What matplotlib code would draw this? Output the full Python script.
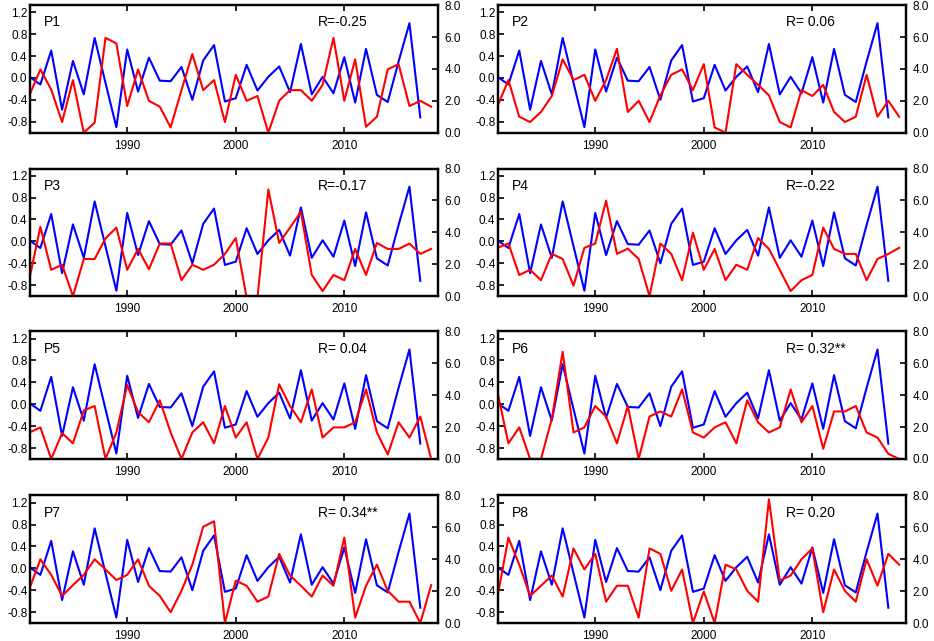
import numpy as np
import matplotlib
matplotlib.use('Agg')
import matplotlib.pyplot as plt

plt.rcParams['font.family'] = ['Liberation Sans', 'DejaVu Sans']

# anos
anos_azul = list(range(1981, 2018))
anos_vermelho = list(range(1981, 2019))

# serie azul (eixo esquerdo) - igual em todos os paineis
azul = [0.02, -0.12, 0.50, -0.58, 0.31, -0.30, 0.73, -0.09, -0.90, 0.52,
        -0.25, 0.37, -0.05, -0.06, 0.20, -0.40, 0.32, 0.60, -0.43, -0.37,
        0.24, -0.23, 0.02, 0.21, -0.26, 0.62, -0.30, 0.02, -0.28, 0.38,
        -0.45, 0.53, -0.31, -0.44, 0.30, 1.00, -0.72]

# series vermelhas (eixo direito)
p1 = [2.36, 3.97, 2.70, 0.67, 3.30, 0.00, 0.63, 5.95, 5.60, 1.67,
      3.97, 2.00, 1.63, 0.33, 2.67, 4.93, 2.67, 3.30, 0.67, 3.63,
      2.00, 2.30, 0.00, 2.00, 2.67, 2.67, 2.00, 3.00, 5.95, 2.00,
      4.60, 0.37, 1.00, 3.97, 4.30, 1.67, 2.00, 1.63]
p2 = [1.67, 3.30, 1.00, 0.67, 1.30, 2.30, 4.60, 3.30, 3.63, 2.00,
      3.30, 5.26, 1.30, 2.00, 0.67, 2.34, 3.63, 3.97, 2.67, 4.30,
      0.33, 0.00, 4.30, 3.63, 3.00, 2.34, 0.67, 0.33, 2.67, 2.30,
      3.00, 1.30, 0.67, 1.00, 3.63, 1.00, 2.00, 1.00]
p3 = [1.12, 4.34, 1.65, 1.97, 0.00, 2.33, 2.33, 3.62, 4.30, 1.65,
      2.96, 1.69, 3.30, 3.30, 1.00, 1.97, 1.65, 1.97, 2.65, 3.64,
      -0.10, -0.10, 6.69, 3.34, 4.30, 5.29, 1.33, 0.32, 1.33, 1.00,
      2.96, 1.33, 3.34, 2.96, 2.96, 3.30, 2.65, 2.96]
p4 = [3.03, 3.30, 1.33, 1.65, 1.00, 2.65, 2.33, 0.66, 3.03, 3.30,
      5.99, 2.65, 2.98, 2.33, 0.00, 3.30, 2.65, 1.00, 3.98, 1.65,
      2.96, 1.00, 1.97, 1.65, 3.64, 2.96, 1.65, 0.32, 1.00, 1.33,
      4.30, 2.96, 2.65, 2.65, 1.00, 2.33, 2.65, 3.03]
p5 = [1.66, 1.98, 0.00, 1.62, 0.98, 3.04, 3.32, 0.00, 1.66, 4.64,
      2.94, 2.30, 3.68, 1.66, 0.00, 1.66, 2.30, 0.98, 3.32, 1.34,
      2.30, 0.00, 1.34, 4.68, 3.32, 2.30, 4.36, 1.34, 1.98, 1.98,
      2.30, 4.36, 1.66, 0.28, 2.30, 1.34, 2.66, 0.00]
p6 = [4.17, 0.98, 1.98, 0.00, 0.00, 2.51, 6.72, 1.66, 1.98, 3.32,
      2.66, 0.98, 3.32, 0.00, 2.66, 2.98, 2.66, 4.36, 1.66, 1.34,
      1.98, 2.30, 0.98, 3.68, 2.30, 1.66, 1.98, 4.36, 2.30, 3.32,
      0.64, 2.98, 2.98, 3.32, 1.66, 1.34, 0.32, 0.00]
p7 = [2.17, 4.00, 3.02, 1.70, 2.38, 3.02, 4.00, 3.36, 2.70, 3.02,
      4.00, 2.34, 1.70, 0.68, 2.02, 3.66, 6.04, 6.38, 0.00, 2.66,
      2.34, 1.34, 1.66, 4.34, 2.98, 2.34, 1.66, 2.98, 2.34, 5.36,
      0.34, 2.34, 3.66, 2.02, 1.34, 1.34, 0.00, 2.38]
p8 = [1.66, 5.36, 3.66, 1.70, 2.34, 2.98, 1.66, 4.68, 3.36, 4.34,
      1.34, 2.34, 2.34, 0.34, 4.68, 4.34, 2.02, 3.36, 0.00, 1.98,
      0.00, 3.66, 3.36, 2.02, 1.34, 7.76, 2.66, 2.98, 4.00, 4.68,
      0.68, 3.36, 2.02, 1.34, 4.00, 2.34, 4.34, 3.66]

vermelhos = [p1, p2, p3, p4, p5, p6, p7, p8]
nomes = ['P1', 'P2', 'P3', 'P4', 'P5', 'P6', 'P7', 'P8']
rotulos_r = ['R=-0.25', 'R= 0.06', 'R=-0.17', 'R=-0.22',
             'R= 0.04', 'R= 0.32**', 'R= 0.34**', 'R= 0.20']

fig = plt.figure(figsize=(9.34, 6.41), dpi=100)

lefts = [0.0316, 0.5327]
bottoms = [0.793, 0.538, 0.284, 0.028]
w, h = 0.437, 0.199

for i in range(8):
    linha, col = i // 2, i % 2
    ax = fig.add_axes([lefts[col], bottoms[linha], w, h])
    ax2 = ax.twinx()

    ax.plot(anos_azul, azul, color='#0000ff', lw=1.5)
    ax2.plot(anos_vermelho, vermelhos[i], color='#ff0000', lw=1.5)

    ax.set_xlim(1981, 2018.6)
    ax.set_ylim(-1.0, 1.33)
    ax2.set_ylim(0, 8)

    ax.set_xticks([1990, 2000, 2010])
    ax.set_yticks(np.arange(-0.8, 1.21, 0.4))
    ax.set_yticklabels(['%.1f' % v for v in np.arange(-0.8, 1.21, 0.4)])
    ax2.set_yticks(np.arange(0, 8.1, 2))
    ax2.set_yticklabels(['%.1f' % v for v in np.arange(0, 8.1, 2)])

    ax.tick_params(axis='x', direction='in', top=True, length=4, width=1.2,
                   labelsize=8.5, pad=5)
    ax.tick_params(axis='y', direction='in', length=4, width=1.2, labelsize=8.5, pad=1.5)
    ax2.tick_params(axis='y', direction='in', length=4, width=1.2, labelsize=8.5, pad=5)

    for a in (ax, ax2):
        for s in a.spines.values():
            s.set_linewidth(1.6)

    ax.text(0.034, 0.865, nomes[i], transform=ax.transAxes, fontsize=10,
            va='center', ha='left')
    ax.text(0.707, 0.865, rotulos_r[i], transform=ax.transAxes, fontsize=10,
            va='center', ha='left')

plt.savefig('out.png', dpi=100)
